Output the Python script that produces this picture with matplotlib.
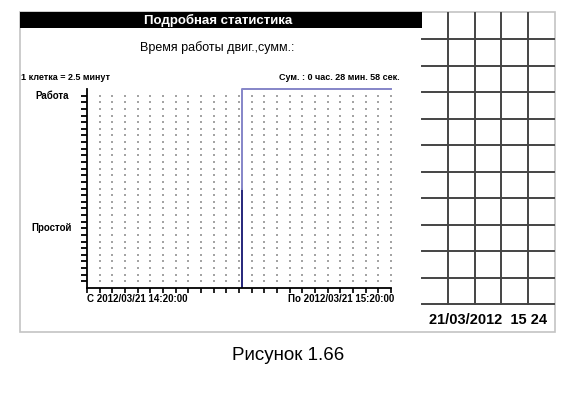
import numpy as np
import matplotlib.pyplot as plt
from matplotlib.patches import Rectangle

plt.rcParams['font.family'] = ['Liberation Sans', 'DejaVu Sans']

# Данные графика
window_start = "2012/03/21 14:20:00"
window_end = "2012/03/21 15:20:00"
cell_minutes = 2.5
window_minutes = 60
n_rows = 30
work_start_min = 30.6           # начало работы (мин. от начала окна)
work_level = 30
mid_level = 15
idle_label_level = 9
work_label_level = 29
total_text = "Сум. : 0 час. 28 мин. 58 сек."
scale_text = "1 клетка = 2.5 минут"
clock_text = "21/03/2012  15 24"
caption = "Рисунок 1.66"
panel_cols = 5
panel_rows = 11

W, H = 580, 408
fig = plt.figure(figsize=(W / 100, H / 100), dpi=100)


def fx(px):
    return px / W


def fy(py):
    return 1 - py / H


# рамка и черная полоса заголовка
fig.patches.append(Rectangle((fx(20), fy(332)), fx(535), 320 / H, transform=fig.transFigure,
                             facecolor='white', edgecolor='#c4c4c4', linewidth=1.2, zorder=-2))
fig.patches.append(Rectangle((fx(20), fy(28)), fx(402), 16 / H, transform=fig.transFigure,
                             facecolor='black', edgecolor='none', zorder=-1))
fig.text(fx(218), fy(20), "Подробная статистика", color='white', fontsize=9.5,
         fontweight='bold', ha='center', va='center')
fig.text(fx(217), fy(48), "Время работы двиг.,сумм.:", fontsize=9, ha='center', va='center')
fig.text(fx(21), fy(77), scale_text, fontsize=6.5, fontweight='bold', ha='left', va='center')
fig.text(fx(400), fy(77), total_text, fontsize=6.5, fontweight='bold', ha='right', va='center')

# основной график
ax = fig.add_axes([fx(87), fy(288), fx(304), 199 / H])
ax.set_facecolor('none')
ax.set_xlim(0, window_minutes)
ax.set_ylim(0, n_rows)
for s in ['top', 'right']:
    ax.spines[s].set_visible(False)
ax.spines['left'].set_linewidth(1.3)
ax.spines['bottom'].set_linewidth(1.3)

x_ticks = np.arange(0, window_minutes + 0.01, cell_minutes)
y_ticks = np.arange(1, n_rows)
ax.set_xticks(x_ticks)
ax.set_yticks(y_ticks)
ax.set_xticklabels([])
ax.set_yticklabels([])
ax.tick_params(axis='x', direction='out', length=3.5, width=1.2)
ax.tick_params(axis='y', direction='out', length=4, width=1.3)

gx, gy = np.meshgrid(x_ticks[1:], y_ticks)
ax.scatter(gx.ravel(), gy.ravel(), s=0.8, marker='s', color='#a4a4a4', linewidths=0)

ax.plot([work_start_min, work_start_min], [0, mid_level], color='#26267a', linewidth=1.4)
ax.plot([work_start_min, work_start_min, window_minutes], [mid_level, work_level, work_level],
        color='#8585c8', linewidth=1.4, clip_on=False)

ax.text(-0.115, work_label_level, "Работа", transform=ax.get_yaxis_transform(),
        fontsize=7, fontweight='bold', ha='center', va='center')
ax.text(-0.115, idle_label_level, "Простой", transform=ax.get_yaxis_transform(),
        fontsize=7, fontweight='bold', ha='center', va='center')
fig.text(fx(87), fy(299), "С " + window_start, fontsize=7, fontweight='bold', ha='left', va='center')
fig.text(fx(394), fy(299), "По " + window_end, fontsize=7, fontweight='bold', ha='right', va='center')

# правая сетка
pan = fig.add_axes([fx(422), fy(304), fx(132), 291 / H])
pan.set_xlim(0, panel_cols)
pan.set_ylim(0, panel_rows)
pan.axis('off')
for r in range(panel_rows):
    pan.plot([0, panel_cols], [r, r], color='#444444', linewidth=1.4, clip_on=False)
for c in range(1, panel_cols):
    pan.plot([c, c], [0, panel_rows], color='#444444', linewidth=1.4, clip_on=False)

fig.text(fx(488), fy(320), clock_text, fontsize=10.5, fontweight='bold', ha='center', va='center')
fig.text(fx(288), fy(355), caption, fontsize=13.5, ha='center', va='center')

fig.savefig("out.png", dpi=100)
